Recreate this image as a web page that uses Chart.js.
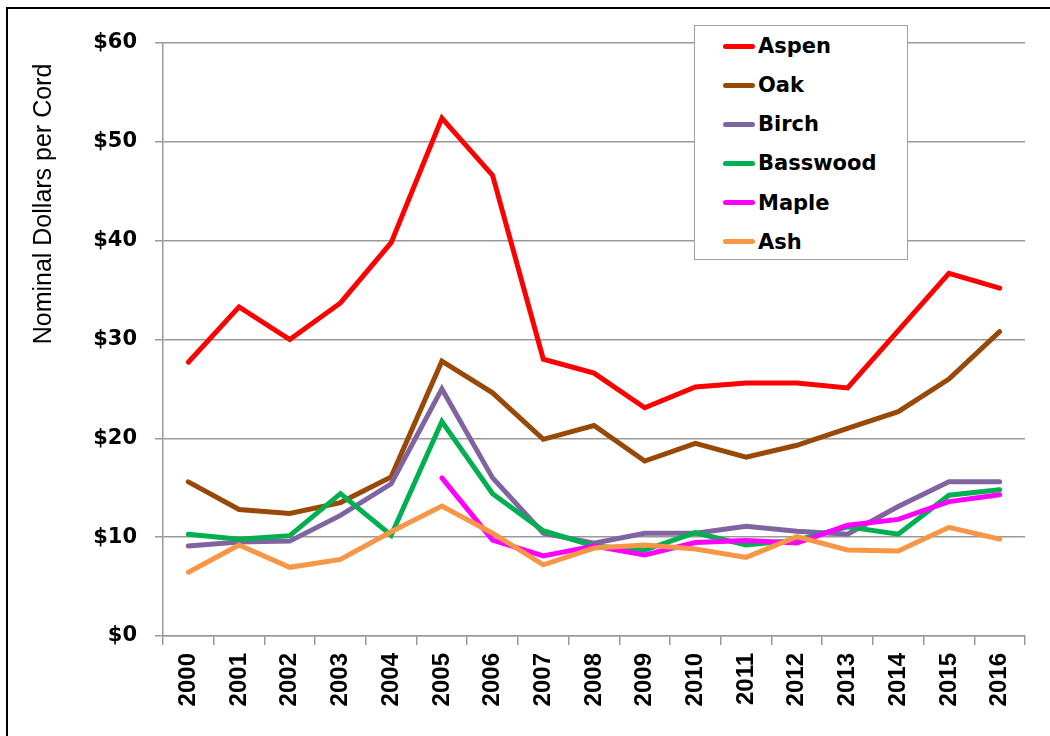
<!DOCTYPE html>
<html>
<head>
<meta charset="utf-8">
<script src="https://cdn.jsdelivr.net/npm/chart.js@4.4.1/dist/chart.umd.min.js"></script>
<style>
html,body{margin:0;padding:0;background:#fff;}
#wrap{position:relative;width:1050px;height:736px;overflow:hidden;background:#fff;}
#frame{position:absolute;left:6px;top:7px;width:1100px;height:800px;border-top:2px solid #000;border-left:2px solid #000;}
#c{position:absolute;left:0;top:0;}
#legend{position:absolute;left:694px;top:25px;width:214px;height:235px;border:1px solid #a0a0a0;background:#fff;box-sizing:border-box;}
.item{position:absolute;left:28px;height:30px;display:flex;align-items:center;font:bold 21px "DejaVu Sans";color:#000;white-space:nowrap;}
.swatch{width:32px;height:5px;border-radius:2.5px;margin-right:3px;}
</style>
</head>
<body>
<div id="wrap">
  <div id="frame"></div>
  <canvas id="c" width="1050" height="736"></canvas>
  <div id="legend"></div>
</div>
<script>
const years = ['2000','2001','2002','2003','2004','2005','2006','2007','2008','2009','2010','2011','2012','2013','2014','2015','2016'];
const seriesNames = ['Aspen','Oak','Birch','Basswood','Maple','Ash'];
const seriesColors = ['#FF0000','#984807','#8064A2','#00B050','#FF00FF','#F79646'];
const aspen    = [27.7,33.3,30.0,33.7,39.8,52.4,46.6,28.0,26.6,23.1,25.2,25.6,25.6,25.1,30.9,36.7,35.2];
const oak      = [15.6,12.8,12.4,13.5,16.1,27.8,24.6,19.9,21.3,17.7,19.5,18.1,19.3,21.0,22.7,26.0,30.8];
const birch    = [9.1,9.5,9.6,12.2,15.4,25.0,16.0,10.4,9.4,10.4,10.4,11.1,10.6,10.3,13.1,15.6,15.6];
const basswood = [10.3,9.8,10.15,14.4,10.2,21.7,14.4,10.65,9.1,8.7,10.45,9.2,9.7,11.05,10.3,14.25,14.8];
const maple    = [null,null,null,null,null,16.0,9.7,8.1,9.1,8.2,9.45,9.65,9.4,11.2,11.8,13.6,14.3];
const ash      = [6.45,9.2,6.95,7.75,10.55,13.15,10.4,7.2,8.9,9.2,8.8,7.95,10.05,8.7,8.6,11.0,9.8];
const yTicks = [0,10,20,30,40,50,60];
const yTitle = 'Nominal Dollars per Cord';

const seriesData = [aspen, oak, birch, basswood, maple, ash];
const datasets = seriesNames.map((n,i)=>({
  label:n,
  data:seriesData[i],
  borderColor:seriesColors[i],
  backgroundColor:seriesColors[i],
  borderWidth:5,
  borderCapStyle:'round',
  borderJoinStyle:'miter',
  pointRadius:0,
  pointHoverRadius:0,
  fill:false,
  tension:0,
  spanGaps:false,
  order:seriesNames.length - i
}));

const titlePlugin = {
  id:'ytitle',
  afterDraw(chart){
    const ctx = chart.ctx;
    ctx.save();
    ctx.translate(44, 204);
    ctx.rotate(-Math.PI/2);
    ctx.font = '25px "Liberation Sans"';
    ctx.fillStyle = '#000';
    ctx.textAlign = 'center';
    ctx.textBaseline = 'middle';
    ctx.fillText(yTitle, 0, 0);
    ctx.restore();
  }
};

const chart = new Chart(document.getElementById('c'), {
  type:'line',
  data:{labels:years, datasets},
  plugins:[titlePlugin],
  options:{
    responsive:false,
    animation:false,
    devicePixelRatio:1,
    layout:{padding:{top:43,right:25,left:0,bottom:0}},
    plugins:{legend:{display:false},tooltip:{enabled:false}},
    scales:{
      x:{
        offset:true,
        afterFit(s){ s.height = 100; },
        grid:{display:true,drawOnChartArea:false,drawTicks:true,tickLength:9,offset:true,color:'#999',lineWidth:1.5},
        border:{color:'#999',width:1.5},
        ticks:{autoSkip:false,maxRotation:90,minRotation:90,padding:8,color:'#000',font:{family:'"Liberation Sans"',size:24,weight:'bold'}}
      },
      y:{
        min:0,max:60,
        afterFit(s){ s.width = 163; },
        afterBuildTicks(s){ s.ticks = yTicks.map(v=>({value:v})); },
        grid:{color:'#999',lineWidth:1.5,tickLength:8,drawTicks:true},
        border:{color:'#999',width:1.5},
        ticks:{padding:18,color:'#000',font:{family:'"DejaVu Sans"',size:21,weight:'bold'},callback:v=>'$'+v}
      }
    }
  }
});

// HTML legend built from the datasets
const leg = document.getElementById('legend');
const rowCenters = [20,59,98,137,176.5,215.5];
chart.data.datasets.forEach((ds,i)=>{
  const it = document.createElement('div');
  it.className='item';
  it.style.top = (rowCenters[i]-15)+'px';
  const sw = document.createElement('span');
  sw.className='swatch';
  sw.style.background = ds.borderColor;
  const tx = document.createElement('span');
  tx.textContent = ds.label;
  it.appendChild(sw); it.appendChild(tx);
  leg.appendChild(it);
});
</script>
</body>
</html>
